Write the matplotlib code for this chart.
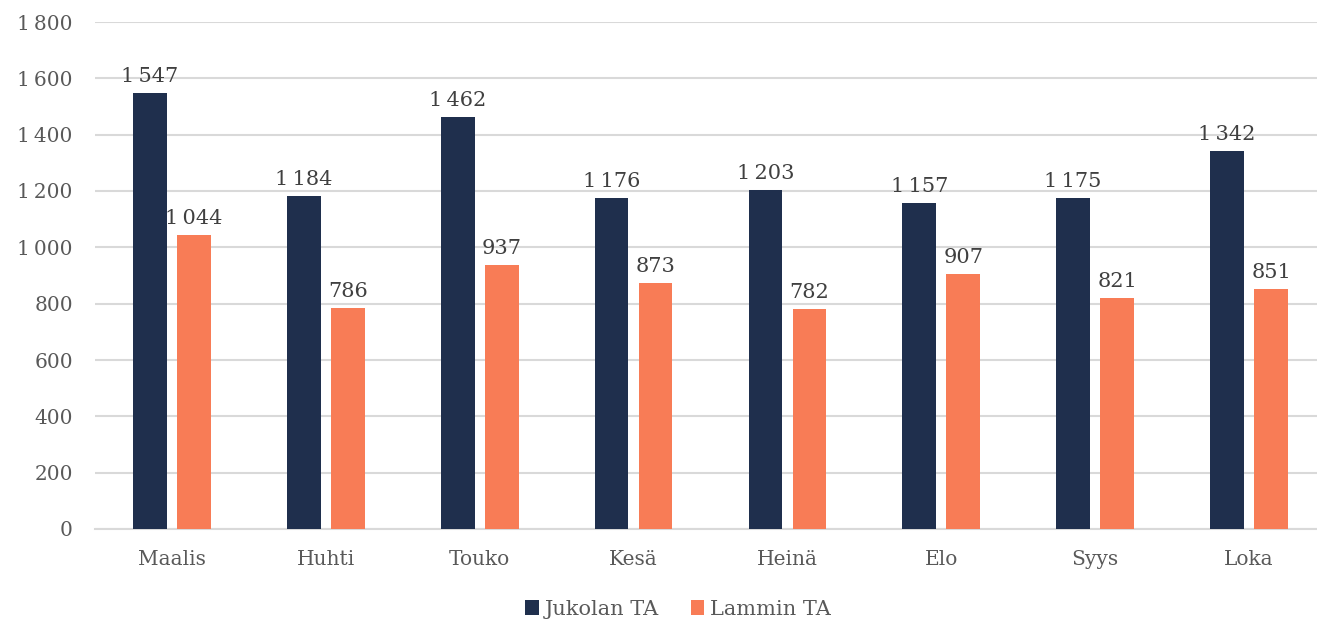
import matplotlib.pyplot as plt
import numpy as np

months = ["Maalis", "Huhti", "Touko", "Kesä", "Heinä", "Elo", "Syys", "Loka"]
jukola = [1547, 1184, 1462, 1176, 1203, 1157, 1175, 1342]
lammi = [1044, 786, 937, 873, 782, 907, 821, 851]
y_ticks = [0, 200, 400, 600, 800, 1000, 1200, 1400, 1600, 1800]

navy = "#1F2F4D"
orange = "#F87C56"
tick_color = "#595959"
label_color = "#404040"
grid_color = "#D9D9D9"

plt.rcParams["font.family"] = ["DejaVu Serif"]


def fmt(v):
    return f"{v:,}".replace(",", "\u202f")


fig = plt.figure(figsize=(13.17, 6.2), dpi=100)
# axes spans pixel x 95..1326, y 22..529
ax = fig.add_axes([95 / 1317, 91 / 620, 1231 / 1317, 507 / 620])

x = np.arange(len(months))
w = 0.22
off = 0.143
b1 = ax.bar(x - off, jukola, w, color=navy, label="Jukolan TA", zorder=3)
b2 = ax.bar(x + off, lammi, w, color=orange, label="Lammin TA", zorder=3)

for bars, vals in ((b1, jukola), (b2, lammi)):
    for rect, v in zip(bars, vals):
        ax.annotate(fmt(v), (rect.get_x() + rect.get_width() / 2, v),
                    xytext=(0, 5), textcoords="offset points",
                    ha="center", va="bottom", fontsize=15, color=label_color)

ax.set_xlim(-0.5, len(months) - 0.5)
ax.set_ylim(0, 1800)
ax.set_yticks(y_ticks)
ax.set_yticklabels([fmt(t) for t in y_ticks])
ax.set_xticks(x)
ax.set_xticklabels(months)
ax.tick_params(axis="both", length=0, labelsize=14.5, colors=tick_color)
ax.tick_params(axis="y", pad=16)
ax.tick_params(axis="x", pad=15)

ax.grid(axis="y", color=grid_color, linewidth=1.5, zorder=0)
for s in ["top", "right", "left"]:
    ax.spines[s].set_visible(False)
ax.spines["bottom"].set_color(grid_color)
ax.spines["bottom"].set_linewidth(1.5)

fig.legend(handles=[b1, b2], loc="lower center", bbox_to_anchor=(0.515, -0.028),
           ncol=2, frameon=False, fontsize=15, handlelength=0.65, handleheight=0.75,
           handletextpad=0.3, columnspacing=1.5, labelcolor=tick_color)

fig.savefig("out.png", dpi=100)
